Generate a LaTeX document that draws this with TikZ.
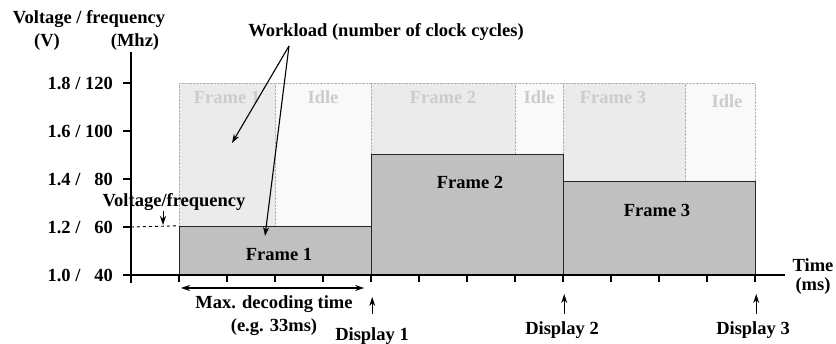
\documentclass[tikz,border=0pt]{standalone}
\usepackage{fontspec}
\setmainfont{Liberation Serif}
\usepackage{xcolor}
\usepackage{tikz}
\usetikzlibrary{arrows.meta}
\definecolor{barfill}{RGB}{192, 192, 192}
\definecolor{loadfill}{RGB}{235, 235, 235}
\definecolor{idlefill}{RGB}{249, 249, 249}
\definecolor{ghost}{RGB}{204, 204, 204}

\begin{document}
\begin{tikzpicture}[x=1pt, y=-1pt, >={Stealth[length=9pt, width=6pt]},
  every node/.style={font=\bfseries\fontsize{18.5}{23}\selectfont, inner sep=0pt}]
  \useasboundingbox (0,0) rectangle (836,344);
  \node[draw=black!30, densely dotted, fill=loadfill, minimum width=96pt, minimum height=144pt, anchor=north west] (w1) at (179,83) {};
  \node[draw=black!30, densely dotted, fill=idlefill, minimum width=96pt, minimum height=144pt, anchor=north west] (i1) at (275,83) {};
  \node[draw=black!30, densely dotted, fill=loadfill, minimum width=144pt, minimum height=72pt, anchor=north west] (w2) at (371,83) {};
  \node[draw=black!30, densely dotted, fill=idlefill, minimum width=48pt, minimum height=72pt, anchor=north west] (i2) at (515,83) {};
  \node[draw=black!30, densely dotted, fill=loadfill, minimum width=122pt, minimum height=99pt, anchor=north west] (w3) at (563,83) {};
  \node[draw=black!30, densely dotted, fill=idlefill, minimum width=70pt, minimum height=99pt, anchor=north west] (i3) at (685,83) {};
  \node[text=ghost] (gw1) at (227,97) {Frame 1};
  \node[text=ghost] (gi1) at (323,97) {Idle};
  \node[text=ghost] (gw2) at (443,97) {Frame 2};
  \node[text=ghost] (gi2) at (539,97) {Idle};
  \node[text=ghost] (gw3) at (613,97) {Frame 3};
  \node[text=ghost] (gi3) at (727,101) {Idle};

  \node[draw=black!85, line width=1.2pt, fill=barfill, minimum width=192pt, minimum height=48pt, anchor=south west] (b1) at (179,275) {};
  \node[draw=black!85, line width=1.2pt, fill=barfill, minimum width=192pt, minimum height=120pt, anchor=south west] (b2) at (371,275) {};
  \node[draw=black!85, line width=1.2pt, fill=barfill, minimum width=192pt, minimum height=93pt, anchor=south west] (b3) at (563,275) {};
  \node (f1) at (279,254) {Frame 1};
  \node (f2) at (470,182) {Frame 2};
  \node (f3) at (657,210) {Frame 3};

  \draw[line width=1.5pt] (131,52) -- (131,283);
  \draw[line width=1.5pt] (131,275) -- (785,275);
  \foreach \y/\txt in {83/{1.8 / 120}, 131/{1.6 / 100}, 179/{1.4 / \phantom{1}80}, 227/{1.2 / \phantom{1}60}, 275/{1.0 / \phantom{1}40}} {
    \draw[line width=1.5pt] (123,\y) -- (131,\y);
    \node[anchor=east] (yl\y) at (113,\y) {\txt};
  }
  \foreach \x in {179,227,...,755}
    \draw[line width=1.5pt] (\x,275) -- (\x,282);

  \node (vt) at (89,19) {Voltage / frequency};
  \node (vu) at (47,42) {(V)};
  \node (fu) at (135,42) {(Mhz)};
  \node (tm) at (813,277) [align=center] {Time\\[-4pt](ms)};

  \draw[dashed, line width=0.9pt] (131,227) -- (b1.north west);
  \node (vf) at (174,202) {Voltage/frequency};
  \coordinate (vfa) at (163,225);
  \draw[->, line width=0.9pt] (vf.south -| vfa) -- (vfa);

  \node (wl) at (386,32) {Workload (number of clock cycles)};
  \coordinate (wlfoot) at (289,46);
  \coordinate (wla) at (232,143);
  \coordinate (wlb) at (265,236);
  \draw[->, line width=1.1pt] (wlfoot) -- (wla);
  \draw[->, line width=1.1pt] (wlfoot) -- (wlb);

  \draw[<->, line width=1.1pt] ([xshift=2pt, yshift=-13pt]b1.south west) -- ([xshift=-8pt, yshift=-13pt]b1.south east);
  \node (md) at (274,316) [align=center] {Max. decoding time\\(e.g. 33ms)};

  \draw[->, line width=1.1pt] (b1.south east) ++(0,39) -- ++(0,-17);
  \draw[->, line width=1.1pt] (b2.south east) ++(0,39) -- ++(0,-20);
  \draw[->, line width=1.1pt] (b3.south east) ++(0,39) -- ++(0,-20);
  \node (d1) at (372,336) {Display 1};
  \node (d2) at (562,330) {Display 2};
  \node (d3) at (753,330) {Display 3};
\end{tikzpicture}
\end{document}
